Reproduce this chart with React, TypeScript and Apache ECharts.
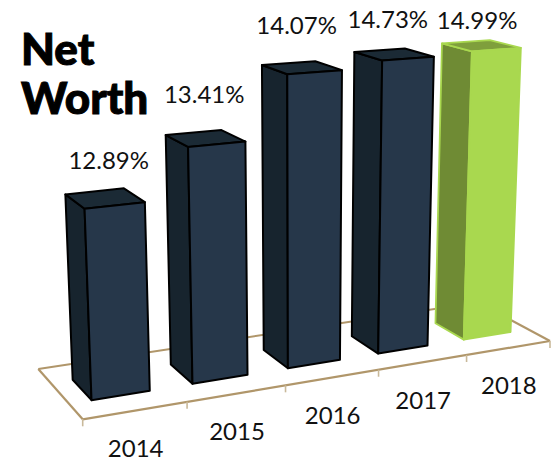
import React, { useEffect, useRef } from "react";
import * as echarts from "echarts";

const years = ["2014", "2015", "2016", "2017", "2018"];
const netWorth = [12.89, 13.41, 14.07, 14.73, 14.99];
const labelNudge = [[4, -39], [-1, -45], [-5, -43], [-6, -36], [-4, -26]];
const highlighted = "2018";

const W = 552;
const H = 462;

// Floor corners on screen; the bars stand on this plane.
const A = [82.7, 419.3]; // front left
const B = [550, 341]; // front right
const C = [477.6, 302.4]; // back right
const D = [38.3, 369]; // back left
const VANISH = [300, 6150]; // where the bars' vertical edges converge

const den = (B[0] - C[0]) * (D[1] - C[1]) - (D[0] - C[0]) * (B[1] - C[1]);
const sx = A[0] - B[0] + C[0] - D[0];
const sy = A[1] - B[1] + C[1] - D[1];
const g = (sx * (D[1] - C[1]) - (D[0] - C[0]) * sy) / den;
const h = ((B[0] - C[0]) * sy - sx * (B[1] - C[1])) / den;

// Projects floor position (u, v) raised by `rise` into screen pixels.
function project(u: number, v: number, rise = 0): number[] {
  const k = -rise;
  const t = 1 + g * u + h * v + k;
  const x = A[0] + (B[0] * (1 + g) - A[0]) * u + (D[0] * (1 + h) - A[0]) * v + k * VANISH[0];
  const y = A[1] + (B[1] * (1 + g) - A[1]) * u + (D[1] * (1 + h) - A[1]) * v + k * VANISH[1];
  return [x / t, y / t];
}

// The value scale has a knee: it flattens sharply past 14.07.
const AXIS_MIN = 10;
const AXIS_MAX = 16;
const KNEE_T = (14.07 - AXIS_MIN) / (AXIS_MAX - AXIS_MIN);
const KNEE_RISE = 0.05285;
function riseAt(t: number): number {
  return t <= KNEE_T ? KNEE_RISE - 0.0996 * (KNEE_T - t) : KNEE_RISE + 0.0105 * (t - KNEE_T);
}

const BAR_HALF = 0.057;
const DEPTH_FRONT = 0.29;
const DEPTH_BACK = 0.7;

const navy = { front: "#26374a", side: "#17242e", top: "#1b2a35", edge: "#000000", width: 2 };
const lime = { front: "#a9d84f", side: "#6f8b34", top: "#7f9f3c", edge: "#a9d84f", width: 1.8 };
const labelFont = "24px Lato";
const axisTan = "#b0966a";

function renderBar(params: any, api: any) {
  const i = api.value(0);
  const cs = params.coordSys;
  const pt = api.coord([i, api.value(1)]);
  const u = (pt[0] - cs.x) / cs.width;
  const rise = riseAt((cs.y + cs.height - pt[1]) / cs.height);
  const c = years[i] === highlighted ? lime : navy;
  const u0 = u - BAR_HALF;
  const u1 = u + BAR_HALF;
  const face = (points: number[][], fill: string) => ({
    type: "polygon",
    shape: { points },
    style: { fill, stroke: c.edge, lineWidth: c.width, lineJoin: "round" },
  });
  const topCentre = project(u, (DEPTH_FRONT + DEPTH_BACK) / 2, rise);
  const edgeMid = project(u, 0);
  const nudge = labelNudge[i];
  return {
    type: "group",
    children: [
      face(
        [project(u0, DEPTH_FRONT), project(u0, DEPTH_BACK), project(u0, DEPTH_BACK, rise), project(u0, DEPTH_FRONT, rise)],
        c.side
      ),
      face(
        [project(u0, DEPTH_FRONT, rise), project(u0, DEPTH_BACK, rise), project(u1, DEPTH_BACK, rise), project(u1, DEPTH_FRONT, rise)],
        c.top
      ),
      face(
        [project(u0, DEPTH_FRONT), project(u1, DEPTH_FRONT), project(u1, DEPTH_FRONT, rise), project(u0, DEPTH_FRONT, rise)],
        c.front
      ),
      {
        type: "text",
        style: {
          text: api.value(1).toFixed(2) + "%",
          x: topCentre[0] + nudge[0],
          y: topCentre[1] + nudge[1],
          font: labelFont,
          fill: "#111111",
          textAlign: "center",
          textVerticalAlign: "middle",
        },
      },
      {
        type: "text",
        style: {
          text: years[i],
          x: edgeMid[0],
          y: edgeMid[1] + 37,
          font: labelFont,
          fill: "#111111",
          textAlign: "center",
          textVerticalAlign: "middle",
        },
      },
    ],
  };
}

function renderFloor() {
  const line = (p: number[], q: number[], width: number, stroke: string) => ({
    type: "line",
    shape: { x1: p[0], y1: p[1], x2: q[0], y2: q[1] },
    style: { stroke, lineWidth: width },
  });
  const children: any[] = [
    line(project(0, 1), project(1, 1), 2, axisTan),
    line(project(0, 0), project(0, 1), 2.2, axisTan),
    line(project(1, 0), project(1, 1), 2.2, axisTan),
    line(project(0, 0), project(1, 0), 2.2, axisTan),
  ];
  years.concat("").forEach((_, n) => {
    const p = project(n / years.length, 0);
    children.push(line(p, [p[0], p[1] + 7], 1.6, "#c9b99a"));
  });
  return { type: "group", children };
}

export default function App() {
  const ref = useRef<HTMLDivElement>(null);
  useEffect(() => {
    const chart = echarts.init(ref.current!, null, { renderer: "svg" });
    chart.setOption({
      animation: false,
      backgroundColor: "#ffffff",
      title: {
        text: "Net\nWorth",
        left: 16,
        top: 18,
        textStyle: {
          fontFamily: "Lato",
          fontWeight: 900,
          fontSize: 44,
          lineHeight: 49,
          color: "#000000",
          textBorderColor: "#000000",
          textBorderWidth: 1,
        },
      },
      grid: { left: 0, right: 0, top: 0, bottom: 0 },
      xAxis: { type: "category", data: years, show: false },
      yAxis: { type: "value", min: AXIS_MIN, max: AXIS_MAX, show: false },
      series: [
        { type: "custom", silent: true, clip: false, z: 1, data: [[0, AXIS_MIN]], renderItem: renderFloor },
        {
          type: "custom",
          silent: true,
          clip: false,
          z: 2,
          encode: { x: 0, y: 1 },
          data: years.map((_, i) => [i, netWorth[i]]),
          renderItem: renderBar,
        },
      ],
    });
    return () => chart.dispose();
  }, []);
  return <div ref={ref} style={{ position: "absolute", left: 0, top: 0, width: W, height: H }} />;
}
